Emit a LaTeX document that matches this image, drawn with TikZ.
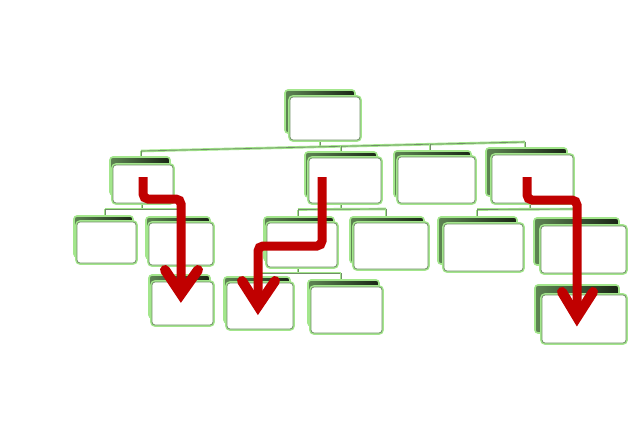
\documentclass[tikz,border=0pt]{standalone}
\usetikzlibrary{fit,backgrounds}
\definecolor{glow}{HTML}{A3E68C}
\definecolor{core}{HTML}{6F8E66}
\definecolor{shdL}{HTML}{5E8553}
\definecolor{shdR}{HTML}{1A2616}
\definecolor{arrred}{HTML}{C00000}
\tikzset{
  frontbox/.style={draw=core, line width=0.8pt, fill=white, rounded corners=3pt, inner sep=0pt,
                   preaction={draw=glow, line width=3.6pt}},
  backbox/.style={draw=glow, line width=1.6pt, left color=shdL, right color=shdR, rounded corners=3pt, inner sep=0pt},
  conn/.style={draw=core, line width=0.7pt, preaction={draw=glow, line width=2.6pt}},
  redarrow/.style={draw=arrred, line width=9pt, rounded corners=5pt},
  redhead/.style={draw=arrred, line width=10pt, line cap=round, line join=miter},
}
\newcommand{\obox}[7]{%
  \node[backbox, fit={({#2+#6},{#3+#7}) ({#4+#6},{#5+#7})}] (#1b) {};
  \node[frontbox, fit={(#2,#3) (#4,#5)}] (#1) {};}
\begin{document}
\begin{tikzpicture}[x=1pt,y=-1pt]
\useasboundingbox (0,0) rectangle (642,420);
% boxes
\obox{T}{290}{97}{360}{140}{-5}{-7}
\obox{B1}{113}{165}{173}{203}{-3}{-8}
\obox{B2}{309}{158}{381}{203}{-4}{-6}
\obox{B3}{398}{157}{475}{203}{-4}{-6}
\obox{B4}{492}{155}{573}{203}{-6}{-7}
\obox{C1}{77}{222}{136}{263}{-3}{-6}
\obox{C2}{149}{223}{213}{265}{-3}{-6}
\obox{C3}{267}{223}{337}{267}{-3}{-6}
\obox{C4}{354}{223}{428}{269}{-4}{-6}
\obox{C5}{444}{224}{523}{271}{-6}{-7}
\obox{C6}{541}{226}{626}{273}{-7}{-8}
\obox{D1}{152}{282}{213}{325}{-3}{-7}
\obox{D2}{227}{283}{293}{329}{-3}{-6}
\obox{D3}{311}{287}{382}{333}{-3}{-7}
\obox{D4}{542}{295}{626}{343}{-7}{-10}
% connectors, behind the boxes
\begin{scope}[on background layer]
\fill[white] (0,0) rectangle (642,420);
\coordinate (bA) at (141,151);
\coordinate (bB) at (525,142);
\coordinate (b0) at (320,146.8);
\coordinate (b2) at (341,146.3);
\coordinate (b3) at (430,144.2);
\draw[conn] (T.south -| b0) -- (b0);
\draw[conn] (bA) -- (bB);
\draw[conn] (bA) -- (B1b.north -| bA);
\draw[conn] (b2) -- (B2b.north -| b2);
\draw[conn] (b3) -- (B3b.north -| b3);
\draw[conn] (bB) -- (B4b.north -| bB);
\coordinate (l1a) at (105,209); \coordinate (l1b) at (181,209); \coordinate (l1m) at (142,209);
\draw[conn] (B1.south -| l1m) -- (l1m);
\draw[conn] (l1a) -- (l1b);
\draw[conn] (l1a) -- (C1b.north -| l1a);
\draw[conn] (l1b) -- (C2b.north -| l1b);
\coordinate (l2a) at (298,209.5); \coordinate (l2b) at (386,209); \coordinate (l2m) at (341,209.3);
\draw[conn] (B2.south -| l2m) -- (l2m);
\draw[conn] (l2a) -- (l2b);
\draw[conn] (l2a) -- (C3b.north -| l2a);
\draw[conn] (l2b) -- (C4b.north -| l2b);
\coordinate (l4a) at (477,209.5); \coordinate (l4b) at (580,209); \coordinate (l4m) at (530,209.3);
\draw[conn] (B4.south -| l4m) -- (l4m);
\draw[conn] (l4a) -- (l4b);
\draw[conn] (l4a) -- (C5b.north -| l4a);
\draw[conn] (l4b) -- (C6b.north -| l4b);
\coordinate (l5a) at (258,273); \coordinate (l5b) at (341,273); \coordinate (l5m) at (298,273);
\draw[conn] (C3.south -| l5m) -- (l5m);
\draw[conn] (l5a) -- (l5b);
\draw[conn] (l5a) -- (D2b.north -| l5a);
\draw[conn] (l5b) -- (D3b.north -| l5b);
\coordinate (l6) at (182,270);
\draw[conn] (C2.south -| l6) -- (D1b.north -| l6);
\coordinate (l7) at (580,280);
\draw[conn] (C6.south -| l7) -- (D4b.north -| l7);
\end{scope}
% red arrows
\coordinate (a1s) at (143,177); \coordinate (a1t) at (181,294);
\coordinate (a1l) at (165,270); \coordinate (a1r) at (198,270);
\draw[redarrow] (a1s) -- (143,199) -- (181,199) -- (a1t);
\draw[redhead] (a1l) -- (a1t) -- (a1r);
\coordinate (a2s) at (322,177); \coordinate (a2t) at (258,306);
\coordinate (a2l) at (242,281); \coordinate (a2r) at (275,281);
\draw[redarrow] (a2s) -- (322,246) -- (258,246) -- (a2t);
\draw[redhead] (a2l) -- (a2t) -- (a2r);
\coordinate (a3s) at (527,177); \coordinate (a3t) at (577,317);
\coordinate (a3l) at (562,292); \coordinate (a3r) at (593,292);
\draw[redarrow] (a3s) -- (527,200) -- (577,200) -- (a3t);
\draw[redhead] (a3l) -- (a3t) -- (a3r);
\end{tikzpicture}
\end{document}
